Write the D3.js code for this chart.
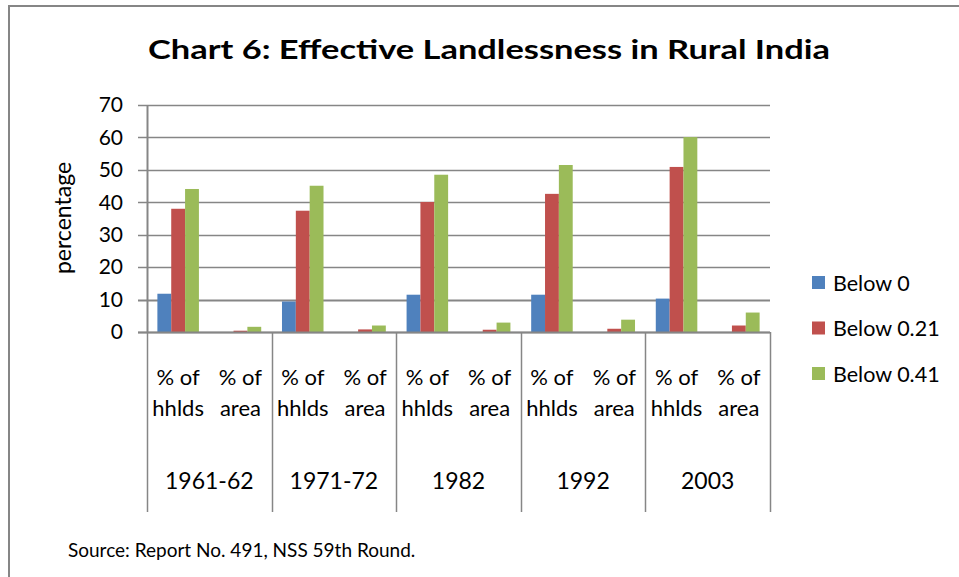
<!DOCTYPE html>
<html>
<head>
<meta charset="utf-8">
<script src="https://cdn.jsdelivr.net/npm/d3@7"></script>
<style>
    body { margin: 0; background: #fff; }
    svg { display: block; font-family: Lato, "Open Sans", sans-serif; }
</style>
</head>
<body>
<div id="chart"></div>
<script>
// Data
const years = ['1961-62', '1971-72', '1982', '1992', '2003'];
const measures = ['% of hhlds', '% of area'];
const seriesNames = ['Below 0', 'Below 0.21', 'Below 0.41'];
const colors = ['#4f81bd', '#c0504d', '#9bbb59'];
const yTicks = [0, 10, 20, 30, 40, 50, 60, 70];

// [year][measure] values per series
const below0 = [[11.8, 0], [9.4, 0], [11.5, 0], [11.5, 0], [10.3, 0]];
const below021 = [[38.0, 0.4], [37.4, 0.8], [40.1, 0.7], [42.6, 1.0], [50.9, 2.0]];
const below041 = [[44.1, 1.6], [45.1, 2.0], [48.5, 2.9], [51.5, 3.8], [60.1, 6.0]];
const seriesValues = [below0, below021, below041];

const W = 959, H = 577;
const plot = { left: 147, right: 770, top: 105, bottom: 332 };
const grey = '#868686';

const svg = d3.select('#chart').append('svg')
    .attr('width', W)
    .attr('height', H);

// Outer frame (left + top edges visible)
svg.append('path')
    .attr('d', `M9,${H} V6 H${W}`)
    .attr('fill', 'none')
    .attr('stroke', grey)
    .attr('stroke-width', 2);

// Title
svg.append('text')
    .attr('x', 489)
    .attr('y', 59)
    .attr('text-anchor', 'middle')
    .attr('textLength', 682)
    .attr('lengthAdjust', 'spacingAndGlyphs')
    .style('font-size', '27px')
    .style('font-weight', '700')
    .text('Chart 6: Effective Landlessness in Rural India');

const y = d3.scaleLinear().domain([0, 70]).range([plot.bottom, plot.top]);
const xYear = d3.scaleBand().domain(years).range([plot.left, plot.right]);
const xMeasure = d3.scaleBand().domain(measures).range([0, xYear.bandwidth()]);
const xSeries = d3.scaleBand().domain(seriesNames).range([0, xMeasure.bandwidth()])
    .paddingInner(0).paddingOuter(0.75);

// Gridlines + left ticks
svg.append('g')
    .selectAll('line')
    .data(yTicks)
    .join('line')
    .attr('x1', plot.left - 9)
    .attr('x2', plot.right)
    .attr('y1', d => Math.round(y(d)) + 0.5)
    .attr('y2', d => Math.round(y(d)) + 0.5)
    .attr('stroke', grey)
    .attr('stroke-width', d => d === 10 ? 2 : 1.3);

// Y tick labels
svg.append('g')
    .selectAll('text')
    .data(yTicks)
    .join('text')
    .attr('x', 123)
    .attr('y', d => y(d))
    .attr('dy', '0.35em')
    .attr('text-anchor', 'end')
    .style('font-size', '21px')
    .text(d => d);

// Y axis title
svg.append('text')
    .attr('transform', 'translate(63,218) rotate(-90)')
    .attr('dy', '0.35em')
    .attr('text-anchor', 'middle')
    .style('font-size', '23px')
    .text('percentage');

// Bars
const barData = [];
years.forEach((yr, i) => {
    measures.forEach((m, j) => {
        seriesNames.forEach((s, k) => {
            barData.push({ yr, m, s, k, v: seriesValues[k][i][j] });
        });
    });
});

svg.append('g')
    .selectAll('rect')
    .data(barData.filter(d => d.v > 0))
    .join('rect')
    .attr('x', d => xYear(d.yr) + xMeasure(d.m) + xSeries(d.s))
    .attr('y', d => y(d.v))
    .attr('width', xSeries.bandwidth())
    .attr('height', d => y(0) - y(d.v))
    .attr('fill', d => colors[d.k]);

// Axis lines
svg.append('line')
    .attr('x1', plot.left + 0.5).attr('x2', plot.left + 0.5)
    .attr('y1', plot.top).attr('y2', plot.bottom)
    .attr('stroke', grey).attr('stroke-width', 2);

svg.append('line')
    .attr('x1', plot.left - 9).attr('x2', plot.right)
    .attr('y1', plot.bottom + 0.5).attr('y2', plot.bottom + 0.5)
    .attr('stroke', grey).attr('stroke-width', 2);

// Category separators
const seps = years.map(d => xYear(d)).concat([plot.right]);
svg.append('g')
    .selectAll('line')
    .data(seps)
    .join('line')
    .attr('x1', d => Math.round(d) + 0.5)
    .attr('x2', d => Math.round(d) + 0.5)
    .attr('y1', plot.bottom)
    .attr('y2', 512)
    .attr('stroke', grey)
    .attr('stroke-width', 1.5);

// Measure labels (two lines)
const mLabels = svg.append('g');
years.forEach(yr => {
    measures.forEach(m => {
        const cx = xYear(yr) + xMeasure(m) + xMeasure.bandwidth() / 2;
        const words = m === '% of hhlds' ? ['% of', 'hhlds'] : ['% of', 'area'];
        words.forEach((w, li) => {
            mLabels.append('text')
                .attr('x', cx)
                .attr('y', 377 + li * 31)
                .attr('dy', '0.35em')
                .attr('text-anchor', 'middle')
                .style('font-size', '22px')
                .text(w);
        });
    });
});

// Year labels
svg.append('g')
    .selectAll('text')
    .data(years)
    .join('text')
    .attr('x', d => xYear(d) + xYear.bandwidth() / 2)
    .attr('y', 481)
    .attr('dy', '0.35em')
    .attr('text-anchor', 'middle')
    .style('font-size', '23px')
    .text(d => d);

// Legend
const legend = svg.append('g')
    .selectAll('g')
    .data(seriesNames)
    .join('g')
    .attr('transform', (d, i) => `translate(812,${283 + i * 45.5})`);

legend.append('rect')
    .attr('x', 0).attr('y', -7)
    .attr('width', 13).attr('height', 13)
    .attr('fill', (d, i) => colors[i]);

legend.append('text')
    .attr('x', 21)
    .attr('dy', '0.35em')
    .style('font-size', '21.5px')
    .text(d => d);

// Source note
svg.append('text')
    .attr('x', 68)
    .attr('y', 557)
    .style('font-size', '19px')
    .text('Source: Report No. 491, NSS 59th Round.');
</script>
</body>
</html>
